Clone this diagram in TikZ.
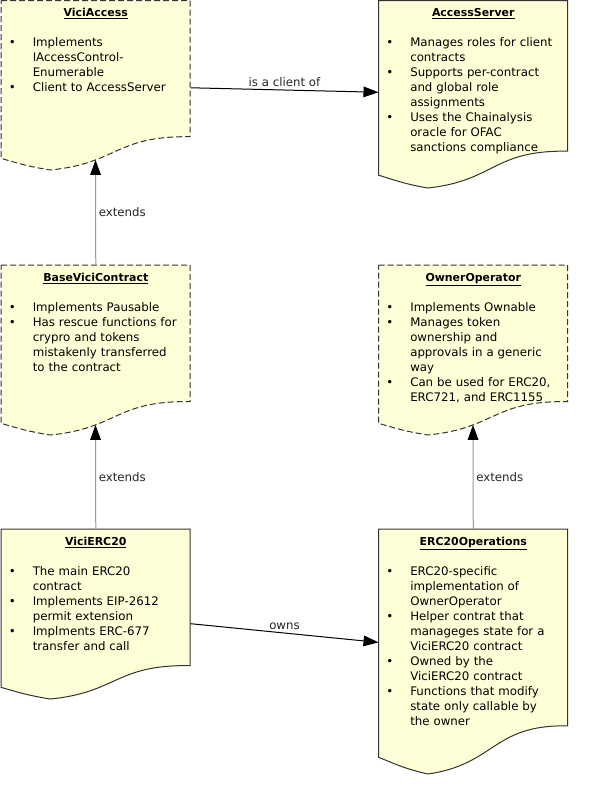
\documentclass[tikz,border=0pt]{standalone}
\usepackage{fontspec}
\setmainfont{DejaVu Sans}
\usepackage{tikz}
\usetikzlibrary{calc}
\usetikzlibrary{arrows.meta}

\definecolor{notefill}{HTML}{FFFFD7}
\definecolor{noteline}{HTML}{333333}
\definecolor{extline}{HTML}{999999}

\newcommand{\bul}{\par\noindent\llap{\makebox[18pt][l]{\textbullet}}}
\newcommand{\doctitle}[1]{\setlength{\parindent}{0pt}%
  \makebox[\linewidth][c]{\fontsize{8.2pt}{11.25pt}\selectfont\bfseries\underline{#1}}\par
  \vspace{11.25pt}\setlength{\leftskip}{39pt}}
% document outline with the wavy bottom, drawn on the box node
\newcommand{\docshape}[3]{%
  \begin{scope}[shift={(#1.north west)}, x=141.75pt, y=-#2]
    \draw[doc, #3] (0,0) -- (1,0) -- (1,.8037) .. controls (.6042,.7972) and (.6176,.9616) .. (.2602,1)
      .. controls (.1324,.9769) and (.0856,.9583) .. (0,.9315) -- cycle;
    \coordinate (#1-wave) at (.5,.9407);
  \end{scope}}

\tikzset{
  docbox/.style={minimum width=141.75pt, inner sep=0pt, anchor=north west},
  doc/.style={fill=notefill, draw=noteline, line width=0.75pt},
  dashedbox/.style={dash pattern=on 4.5pt off 2.25pt},
  doctext/.style={text width=172.5pt, align=left, inner sep=0pt, anchor=base,
    font=\fontsize{8.85pt}{11.25pt}\selectfont},
  lbl/.style={font=\fontsize{8.85pt}{11.25pt}\selectfont, text=black!85, inner sep=2pt},
  assoc/.style={draw=black, line width=0.75pt, -{Triangle[length=11.25pt, width=8pt]}},
  inherit/.style={draw=extline, line width=0.75pt, -{Triangle[length=11.25pt, width=8pt, black]}}
}

\begin{document}
\begin{tikzpicture}[x=0.75pt, y=-0.75pt]
    \useasboundingbox (0,0) rectangle (590,786);
    % boxes
    \node[docbox, minimum height=127.125pt] (viciaccess) at (1,0.5) {};
    \node[docbox, minimum height=140.625pt] (accessserver) at (378.5,0.5) {};
    \node[docbox, minimum height=127.5pt] (base) at (1,265) {};
    \node[docbox, minimum height=127.5pt] (owner) at (378.5,265) {};
    \node[docbox, minimum height=127.5pt] (vicierc) at (1,529) {};
    \node[docbox, minimum height=183.75pt] (ercops) at (378.5,529) {};
    \docshape{viciaccess}{127.125pt}{dashedbox}
    \docshape{accessserver}{140.625pt}{}
    \docshape{base}{127.5pt}{dashedbox}
    \docshape{owner}{127.5pt}{dashedbox}
    \docshape{vicierc}{127.5pt}{}
    \docshape{ercops}{183.75pt}{}
    % texts
    \node[doctext] (viciaccess-txt) at ($(viciaccess.north)+(0,16)$) {\doctitle{ViciAccess}%
      \bul Implements\\IAccessControl-\\Enumerable\bul Client to AccessServer\par};
    \node[doctext] (accessserver-txt) at ($(accessserver.north)+(0,16)$) {\doctitle{AccessServer}%
      \bul Manages roles for client\\contracts\bul Supports per-contract\\and global role\\assignments%
      \bul Uses the Chainalysis\\oracle for OFAC\\sanctions compliance\par};
    \node[doctext] (base-txt) at ($(base.north)+(0,16.5)$) {\doctitle{BaseViciContract}%
      \bul Implements Pausable\bul Has rescue functions for\\crypro and tokens\\mistakenly transferred\\to the contract\par};
    \node[doctext] (owner-txt) at ($(owner.north)+(0,16.5)$) {\doctitle{OwnerOperator}%
      \bul Implements Ownable\bul Manages token\\ownership and\\approvals in a generic\\way%
      \bul Can be used for ERC20,\\ERC721, and ERC1155\par};
    \node[doctext] (vicierc-txt) at ($(vicierc.north)+(0,16.5)$) {\doctitle{ViciERC20}%
      \bul The main ERC20\\contract\bul Implements EIP-2612\\permit extension\bul Implments ERC-677\\transfer and call\par};
    \node[doctext] (ercops-txt) at ($(ercops.north)+(0,16.5)$) {\doctitle{ERC20Operations}%
      \bul ERC20-specific\\implementation of\\OwnerOperator\bul Helper contrat that\\manageges state for a\\ViciERC20 contract%
      \bul Owned by the\\ViciERC20 contract\bul Functions that modify\\state only callable by\\the owner\par};
    % connectors
    \draw[assoc] (viciaccess) -- node[lbl, above] {is a client of} (accessserver);
    \draw[assoc] (vicierc) -- node[lbl, above] {owns} (ercops);
    \draw[inherit] (base.north) -- node[lbl, right] {extends} (viciaccess-wave);
    \draw[inherit] (vicierc.north) -- node[lbl, right] {extends} (base-wave);
    \draw[inherit] (ercops.north) -- node[lbl, right] {extends} (owner-wave);
\end{tikzpicture}
\end{document}
